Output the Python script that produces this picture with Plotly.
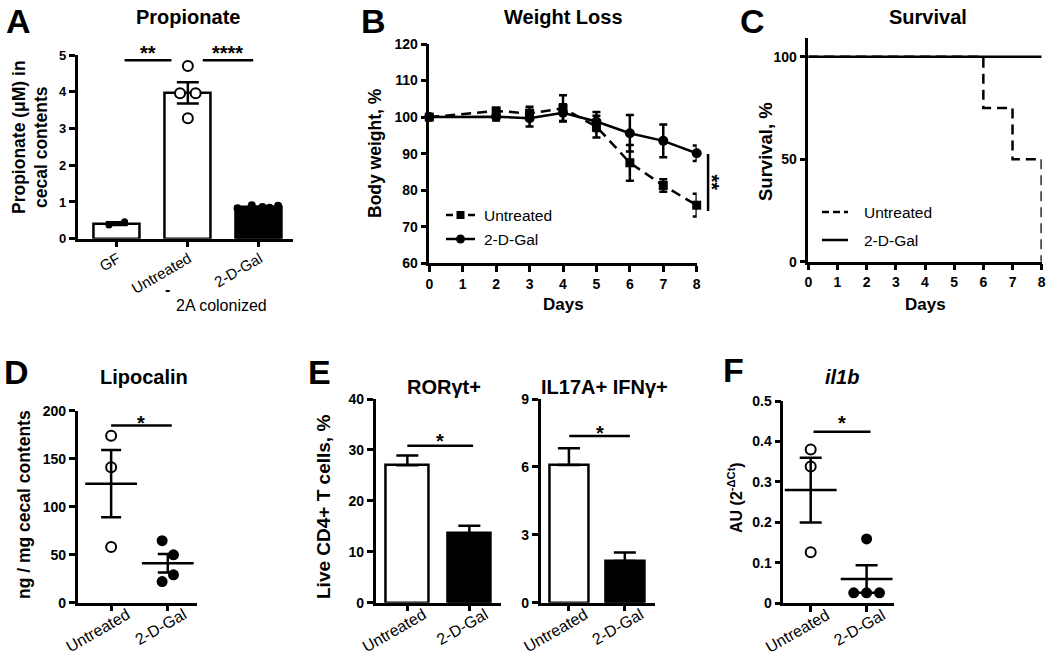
import plotly.graph_objects as go

W, H = 1050, 658
FONT = "Liberation Sans, Arial, Helvetica, sans-serif"
LW = 2.5

# ------------------------------------------------------------------ data
# A  Propionate
a_groups = ["GF", "Untreated", "2-D-Gal"]
a_means = [0.41, 3.97, 0.85]
a_sem = [0.04, 0.29, 0.02]
a_gf_pts = [0.37, 0.46]
a_untr_pts = [4.70, 3.96, 3.96, 3.28]
a_gal_pts = [0.83, 0.91, 0.86, 0.84, 0.90]

# B  Weight loss
b_days = [0, 2, 3, 4, 5, 6, 7, 8]
b_untr = [100, 101.7, 101.0, 102.4, 97.4, 87.5, 81.3, 75.9]
b_untr_sem = [0, 0.8, 1.8, 3.6, 3.0, 4.9, 1.7, 3.1]
b_gal = [100, 100.1, 99.7, 101.2, 98.8, 95.6, 93.5, 90.1]
b_gal_sem = [0, 1.0, 2.3, 2.3, 2.6, 5.0, 4.5, 2.1]

# C  Survival
c_untr_days = [0, 6, 7, 8]
c_untr_surv = [100, 75, 50, 0]
c_gal_days = [0, 8]
c_gal_surv = [100, 100]

# D  Lipocalin
two_groups = ["Untreated", "2-D-Gal"]
d_untr_pts = [174, 141, 58]
d_gal_pts = [64.6, 49.9, 29.0, 22.0]
d_means = [124, 41]
d_sem = [35, 9.6]

# E  flow cytometry
e1_means = [27.0, 13.6]
e1_sem = [1.9, 1.5]
e2_means = [6.08, 1.84]
e2_sem = [0.74, 0.38]

# F  il1b
f_untr_pts = [0.38, 0.338, 0.126]
f_gal_pts = [0.159, 0.026, 0.026, 0.026]
f_means = [0.28, 0.06]
f_sem = [0.08, 0.034]

# ------------------------------------------------------------------ layout geometry (page pixels)
GEOM = {
    "A": dict(x=(77.7, 293), y=(55, 238.7), xr=[-0.55, 2.48], yr=[0, 5]),
    "B": dict(x=(429.3, 696.7), y=(44, 263.3), xr=[0, 8], yr=[60, 120]),
    "C": dict(x=(808.3, 1041.7), y=(38.3, 261.7), xr=[0, 8], yr=[0, 109]),
    "D": dict(x=(77.7, 196.7), y=(410.7, 602.7), xr=[-0.59, 1.51], yr=[0, 200]),
    "E1": dict(x=(375.7, 501), y=(399, 602.7), xr=[-0.51, 1.51], yr=[0, 40]),
    "E2": dict(x=(540.7, 655), y=(399, 602.7), xr=[-0.505, 1.54], yr=[0, 9]),
    "F": dict(x=(783.3, 894), y=(401, 603.3), xr=[-0.49, 1.49], yr=[0, 0.5]),
}
ORDER = ["A", "B", "C", "D", "E1", "E2", "F"]
# jitter offsets (category units) for scatter dots
JIT_A_GF = [-0.11, 0.11]
JIT_A_UN = [0.0, -0.11, 0.11, 0.0]
JIT_A_GAL = [-0.3, -0.1, 0.05, 0.15, 0.27]
JIT_D_UN = [0, 0, 0]
JIT_D_GAL = [-0.1, 0.1, 0.1, -0.1]
JIT_F_UN = [0, 0, 0]
JIT_F_GAL = [0, -0.23, 0, 0.23]


def px(x):
    return x / W


def py(y):
    return 1 - y / H


def d2page(p, x, y):
    """data coordinates of panel p -> page pixels (same mapping as the axes)."""
    g = GEOM[p]
    (x0, x1), (yt, yb) = g["x"], g["y"]
    xp = x0 + (x - g["xr"][0]) / (g["xr"][1] - g["xr"][0]) * (x1 - x0)
    yp = yb - (y - g["yr"][0]) / (g["yr"][1] - g["yr"][0]) * (yb - yt)
    return xp, yp


def ax_ids(p):
    i = ORDER.index(p) + 1
    s = "" if i == 1 else str(i)
    return "x" + s, "y" + s


fig = go.Figure()

base_axis = dict(showline=True, linecolor="black", linewidth=LW, ticks="outside",
                 ticklen=6, tickwidth=LW, tickcolor="black", showgrid=False,
                 zeroline=False, fixedrange=True, automargin=False)
num_font = dict(family=FONT, size=14, color="black", weight="bold")
cat_font = dict(family=FONT, size=16, color="black")

layout_axes = {}
for p in ORDER:
    g = GEOM[p]
    xid, yid = ax_ids(p)
    xa = dict(base_axis, domain=[px(g["x"][0]), px(g["x"][1])], range=g["xr"], anchor=yid)
    ya = dict(base_axis, domain=[py(g["y"][1]), py(g["y"][0])], range=g["yr"], anchor=xid)
    layout_axes["xaxis" + xid[1:]] = xa
    layout_axes["yaxis" + yid[1:]] = ya


def setx(p, **kw):
    layout_axes["xaxis" + ax_ids(p)[0][1:]].update(kw)


def sety(p, **kw):
    layout_axes["yaxis" + ax_ids(p)[1][1:]].update(kw)


setx("A", tickvals=[0, 1, 2], ticktext=a_groups, tickangle=-30, tickfont=dict(cat_font, size=15),
     ticklabelshift=1, ticklabelstandoff=-3)
sety("A", tickvals=[0, 1, 2, 3, 4, 5], tickfont=dict(num_font, size=13))
setx("B", tickvals=list(range(9)), tickfont=num_font)
sety("B", tickvals=list(range(60, 121, 10)), tickfont=num_font)
setx("C", tickvals=list(range(9)), tickfont=num_font)
sety("C", tickvals=[0, 50, 100], tickfont=num_font)
for p in ["D", "E1", "E2", "F"]:
    setx(p, tickvals=[0, 1], ticktext=two_groups, tickangle=-30, tickfont=cat_font,
         ticklabelshift=16, ticklabelstandoff=-12)
sety("D", tickvals=[0, 50, 100, 150, 200], tickfont=num_font)
sety("E1", tickvals=[0, 10, 20, 30, 40], tickfont=num_font)
sety("E2", tickvals=[0, 3, 6, 9], tickfont=num_font)
sety("F", tickvals=[0, 0.1, 0.2, 0.3, 0.4, 0.5], tickfont=num_font)


def tr(p, t):
    xid, yid = ax_ids(p)
    t.update(xaxis=xid, yaxis=yid, showlegend=False, hoverinfo="skip")
    fig.add_trace(t)


def err(arr, w, minus=None):
    d = dict(type="data", array=arr, color="black", thickness=LW, width=w, visible=True)
    if minus is not None:
        d.update(symmetric=False, arrayminus=minus)
    return d


# ---- A
tr("A", go.Bar(x=[0, 1, 2], y=a_means, width=0.65,
               marker=dict(color=["white", "white", "black"], line=dict(color="black", width=LW)),
               error_y=err(a_sem, 11)))
tr("A", go.Scatter(x=[0 + j for j in JIT_A_GF], y=a_gf_pts, mode="markers",
                   marker=dict(color="black", size=7), cliponaxis=False))
tr("A", go.Scatter(x=[1 + j for j in JIT_A_UN], y=a_untr_pts, mode="markers",
                   marker=dict(color="white", size=10, line=dict(color="black", width=2)), cliponaxis=False))
tr("A", go.Scatter(x=[2 + j for j in JIT_A_GAL], y=a_gal_pts, mode="markers",
                   marker=dict(color="black", size=8), cliponaxis=False))

# ---- B
tr("B", go.Scatter(x=b_days, y=b_untr, mode="lines+markers",
                   line=dict(color="black", width=LW, dash="10px,6px"),
                   marker=dict(symbol="square", size=9, color="black"),
                   error_y=err(b_untr_sem, 4), cliponaxis=False))
tr("B", go.Scatter(x=b_days, y=b_gal, mode="lines+markers",
                   line=dict(color="black", width=LW),
                   marker=dict(symbol="circle", size=10, color="black"),
                   error_y=err(b_gal_sem, 4), cliponaxis=False))

# ---- C
tr("C", go.Scatter(x=c_untr_days, y=c_untr_surv, mode="lines", line_shape="hv",
                   line=dict(color="black", width=LW, dash="10px,6px")))
tr("C", go.Scatter(x=c_gal_days, y=c_gal_surv, mode="lines",
                   line=dict(color="black", width=LW)))

# ---- D
tr("D", go.Scatter(x=[0 + j for j in JIT_D_UN], y=d_untr_pts, mode="markers",
                   marker=dict(color="white", size=10, line=dict(color="black", width=2)), cliponaxis=False))
tr("D", go.Scatter(x=[1 + j for j in JIT_D_GAL], y=d_gal_pts, mode="markers",
                   marker=dict(color="black", size=11), cliponaxis=False))
tr("D", go.Scatter(x=[0, 1], y=d_means, mode="markers",
                   marker=dict(symbol="line-ew", size=37, line=dict(color="black", width=LW)),
                   error_y=err(d_sem, 10), cliponaxis=False))

# ---- E
tr("E1", go.Bar(x=[0, 1], y=e1_means, width=0.69,
                marker=dict(color=["white", "black"], line=dict(color="black", width=LW)),
                error_y=err(e1_sem, 11, [0, 0])))
tr("E2", go.Bar(x=[0, 1], y=e2_means, width=0.70,
                marker=dict(color=["white", "black"], line=dict(color="black", width=LW)),
                error_y=err(e2_sem, 11, [0, 0])))

# ---- F
tr("F", go.Scatter(x=[0 + j for j in JIT_F_UN], y=f_untr_pts, mode="markers",
                   marker=dict(color="white", size=10, line=dict(color="black", width=2)), cliponaxis=False))
tr("F", go.Scatter(x=[1 + j for j in JIT_F_GAL], y=f_gal_pts, mode="markers",
                   marker=dict(color="black", size=11), cliponaxis=False))
tr("F", go.Scatter(x=[0, 1], y=f_means, mode="markers",
                   marker=dict(symbol="line-ew", size=37, line=dict(color="black", width=LW)),
                   error_y=err(f_sem, 11), cliponaxis=False))

# ------------------------------------------------------------------ annotations & shapes
annotations = []
shapes = []


def pann(text, xp, yp, size, bold=True, angle=0, xanchor="center", yshift=0, xshift=0):
    if bold:
        text = "<b>" + text + "</b>"
    annotations.append(dict(text=text, x=px(xp), y=py(yp), xref="paper", yref="paper",
                            showarrow=False, xanchor=xanchor, yanchor="middle", textangle=angle,
                            font=dict(family=FONT, size=size, color="black"),
                            xshift=xshift, yshift=yshift))


def pline(x0, y0, x1, y1, dash="solid"):
    shapes.append(dict(type="line", xref="paper", yref="paper", x0=px(x0), x1=px(x1),
                       y0=py(y0), y1=py(y1), line=dict(color="black", width=LW, dash=dash)))


# panel letters
for L, (xp, yp) in {"A": (18, 21), "B": (373, 21), "C": (752, 21),
                    "D": (16, 372), "E": (319, 372), "F": (733, 370)}.items():
    pann(L, xp, yp, 34)

# titles
pann("Propionate", 188, 17, 20)
pann("Weight Loss", 563, 17, 20)
pann("Survival", 928, 17, 20)
pann("Lipocalin", 144, 377, 20)
pann("RORγt+", 444, 387, 20)
pann("IL17A+ IFNγ+", 604, 387, 20)
pann("<i>il1b</i>", 842, 377, 20)

# axis titles
pann("Propionate (μM) in", 19, 137, 17.5, angle=-90)
pann("cecal contents", 41, 147, 17.5, angle=-90)
pann("Body weight, %", 375, 153, 17.5, angle=-90)
pann("Survival, %", 765, 152, 18.5, angle=-90)
pann("Days", 563, 304, 17)
pann("Days", 925, 304, 17)
pann("ng / mg cecal contents", 24, 505, 17.5, angle=-90)
pann("Live CD4+ T cells, %", 323, 507, 19, angle=-90)
pann("AU (2<sup>-ΔCt</sup>)", 735, 498, 16, angle=-90)

# A group label below categories
pann("-", 167, 290, 16)
pann("2A colonized", 221, 305, 16, bold=False)


# significance bars (data coordinates mapped through the panel scales)
def sig(p, x0, x1, y, label, ylab, size=20):
    xa, ya = d2page(p, x0, y)
    xb, _ = d2page(p, x1, y)
    pline(xa, ya, xb, ya)
    xl, yl = d2page(p, (x0 + x1) / 2, ylab)
    pann(label, xl, yl, size, yshift=-6)


sig("A", 0.11, 0.77, 4.86, "**", 5.21)
sig("A", 1.21, 1.92, 4.86, "****", 5.21)
sig("D", 0.0, 1.07, 184.5, "*", 193)
sig("E1", 0.0, 1.06, 30.8, "*", 32.9)
sig("E2", 0.005, 1.09, 7.37, "*", 7.78)
sig("F", 0.05, 1.07, 0.424, "*", 0.461)

# B side significance bracket
bx, by0 = d2page("B", 8.34, 89.9)
_, by1 = d2page("B", 8.34, 74.3)
pline(bx, by0, bx, by1)
pann("**", bx + 4, (by0 + by1) / 2, 20, angle=90)

# manual legends
# B legend
pline(446, 215, 475, 215, "7px,4px")
shapes.append(dict(type="rect", xref="paper", yref="paper", x0=px(456.5), x1=px(464.5),
                   y0=py(219), y1=py(211), fillcolor="black", line=dict(width=0)))
pann("Untreated", 482, 215, 15.5, bold=False, xanchor="left")
pline(446, 239, 475, 239)
shapes.append(dict(type="circle", xref="paper", yref="paper", x0=px(456), x1=px(465),
                   y0=py(243.5), y1=py(234.5), fillcolor="black", line=dict(width=0)))
pann("2-D-Gal", 482, 239, 15.5, bold=False, xanchor="left")

# C legend
pline(822, 212, 848, 212, "7px,4px")
pann("Untreated", 862, 212, 15.5, bold=False, xanchor="left")
pline(822, 240, 848, 240)
pann("2-D-Gal", 862, 240, 15.5, bold=False, xanchor="left")

fig.update_layout(
    width=W, height=H, margin=dict(l=0, r=0, t=0, b=0, pad=0, autoexpand=False),
    paper_bgcolor="white", plot_bgcolor="white",
    font=dict(family=FONT, color="black"),
    showlegend=False, bargap=0,
    annotations=annotations, shapes=shapes,
    **layout_axes,
)

fig.write_html("out.html", config={"displayModeBar": False},
               post_script="document.body.style.margin='0px';document.body.style.overflow='hidden';")
